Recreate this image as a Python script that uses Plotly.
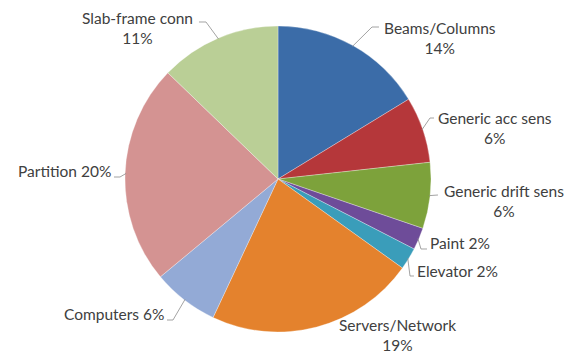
import plotly.graph_objects as go
import math

# ---- data ----
categories = ["Beams/Columns", "Generic acc sens", "Generic drift sens", "Paint", "Elevator",
              "Servers/Network", "Computers", "Partition", "Slab-frame conn"]
values = [14, 6, 6, 2, 2, 19, 6, 20, 11]
pct_labels = ["14%", "6%", "6%", "2%", "2%", "19%", "6%", "20%", "11%"]
colors = ["#3B6CA8", "#B5373A", "#7DA23B", "#6E4C99", "#3A9DBA",
          "#E4822D", "#93AAD6", "#D49392", "#BACF96"]

# ---- layout (pixels) ----
W, H = 581, 353
cx, cy, r = 278, 179, 153

# label block centres and formats
label_center = [(440, 37.5), (495, 127.5), (504, 201), (460, 243), (457.5, 271),
                (397.5, 335), (113.5, 314), (64, 171), (137.5, 28)]
two_line = [True, True, True, False, False, True, False, False, True]
# leader-line stub points (label side), None = no leader
leader_stub = [[(379, 27), (372, 27)], [(434, 118), (430, 118)], [(438, 195)],
               [(427, 249), (421, 249)], [(414, 276), (410, 276)], None,
               [(167, 320), (173, 320)], [(114, 177), (120, 177)], [(199, 22), (206, 22)]]

def px(x):
    return x / W

def py(y):
    return 1 - y / H

fig = go.Figure(go.Pie(
    labels=categories, values=values, sort=False, direction="clockwise", rotation=0,
    marker=dict(colors=colors, line=dict(color="rgba(255,255,255,0.5)", width=0.6)),
    textinfo="none", hoverinfo="label+percent", showlegend=False,
    domain=dict(x=[px(cx - r), px(cx + r)], y=[py(cy + r), py(cy - r)]),
))

total = sum(values)
cum = 0
shapes = []
annotations = []
for i, v in enumerate(values):
    mid = (cum + v / 2) / total * 2 * math.pi
    cum += v
    ax = cx + (r - 1) * math.sin(mid)
    ay = cy - (r - 1) * math.cos(mid)
    if leader_stub[i] is not None:
        pts = leader_stub[i] + [(ax, ay)]
        path = "M " + " L ".join(f"{px(x):.5f},{py(y):.5f}" for x, y in pts)
        shapes.append(dict(type="path", xref="paper", yref="paper", path=path,
                           line=dict(color="#8C8C8C", width=0.8)))
    sep = "<br>" if two_line[i] else " "
    lx, ly = label_center[i]
    annotations.append(dict(text=categories[i] + sep + pct_labels[i], x=px(lx), y=py(ly),
                            xref="paper", yref="paper", xanchor="center", yanchor="middle",
                            showarrow=False, align="center",
                            font=dict(family="Lato", size=15.5, color="#404040")))

fig.update_layout(width=W, height=H, margin=dict(l=0, r=0, t=0, b=0),
                  paper_bgcolor="white", plot_bgcolor="white",
                  shapes=shapes, annotations=annotations)

fig.write_html("out.html")
